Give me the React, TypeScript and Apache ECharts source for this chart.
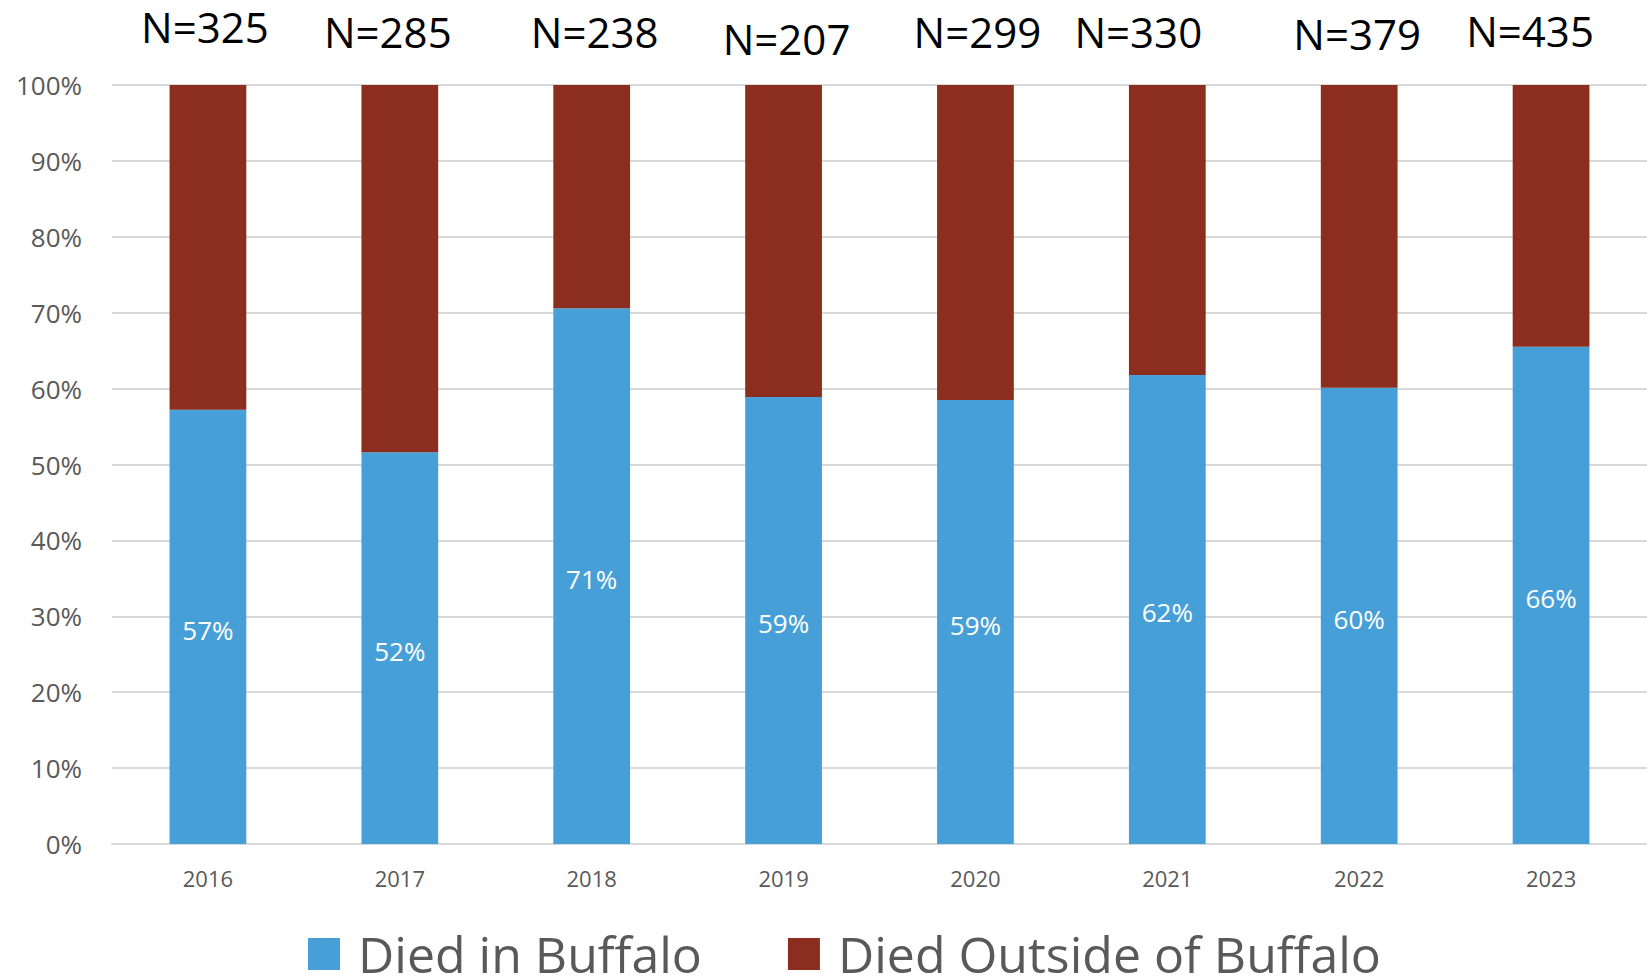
import React, { useEffect, useRef } from "react";
import * as echarts from "echarts";

const years = ["2016", "2017", "2018", "2019", "2020", "2021", "2022", "2023"];
const diedInBuffalo = [57.2, 51.6, 70.6, 58.9, 58.5, 61.8, 60.1, 65.5];
const diedOutside = [42.8, 48.4, 29.4, 41.1, 41.5, 38.2, 39.9, 34.5];
const inLabels = ["57%", "52%", "71%", "59%", "59%", "62%", "60%", "66%"];
const totals = [325, 285, 238, 207, 299, 330, 379, 435];
const totalOffsets: [number, number][] = [
  [-3, -5], [-12, 0], [3, 0], [3, 7], [2, 0], [-29, 0], [-2, 2], [-21, -1],
];
const yTicks = [0, 10, 20, 30, 40, 50, 60, 70, 80, 90, 100];

const FONT = "'Open Sans', 'Noto Sans', sans-serif";
const BLUE = "#479FD7";
const RED = "#8B2D1F";
const GRAY = "#595959";

export default function App() {
  const ref = useRef<HTMLDivElement>(null);
  useEffect(() => {
    if (!ref.current) return;
    const chart = echarts.init(ref.current, null, { renderer: "svg" });
    chart.setOption({
      animation: false,
      backgroundColor: "#ffffff",
      textStyle: { fontFamily: FONT },
      grid: { left: 112, right: 0, top: 85, bottom: 132, containLabel: false },
      legend: {
        top: 929,
        left: 308,
        padding: 0,
        itemWidth: 32,
        itemHeight: 32,
        itemGap: 86,
        icon: "rect",
        textStyle: {
          fontSize: 50,
          lineHeight: 44,
          color: GRAY,
          fontFamily: FONT,
          padding: [0, 0, 0, 13],
        },
        data: ["Died in Buffalo", "Died Outside of Buffalo"],
      },
      xAxis: {
        type: "category",
        data: years,
        axisLine: { show: true, lineStyle: { color: "#D9D9D9", width: 2 } },
        axisTick: { show: false },
        axisLabel: { color: GRAY, fontSize: 22, margin: 23, fontFamily: FONT },
      },
      yAxis: {
        type: "value",
        min: 0,
        max: 100,
        interval: 10,
        axisLine: { show: false },
        axisTick: { show: false },
        splitLine: { lineStyle: { color: "#D9D9D9", width: 2 } },
        axisLabel: {
          color: GRAY,
          fontSize: 26,
          margin: 30,
          fontFamily: FONT,
          formatter: (v: number) => (yTicks.includes(v) ? v + "%" : ""),
        },
      },
      series: [
        {
          name: "Died in Buffalo",
          type: "bar",
          stack: "total",
          barWidth: "40%",
          itemStyle: { color: BLUE },
          label: {
            show: true,
            position: "inside",
            color: "#ffffff",
            fontSize: 26,
            fontFamily: FONT,
            offset: [0, 3],
            formatter: (p: any) => inLabels[p.dataIndex],
          },
          data: diedInBuffalo,
        },
        {
          name: "Died Outside of Buffalo",
          type: "bar",
          stack: "total",
          barWidth: "40%",
          itemStyle: { color: RED },
          label: {
            show: true,
            position: "top",
            distance: 34,
            color: "#000000",
            fontSize: 42,
            lineHeight: 40,
            fontFamily: FONT,
            formatter: (p: any) => "N=" + totals[p.dataIndex],
          },
          data: diedOutside.map((v, i) => ({
            value: v,
            label: { offset: totalOffsets[i] },
          })),
        },
      ],
    });
    return () => chart.dispose();
  }, []);
  return (
    <div
      ref={ref}
      style={{ position: "absolute", left: 0, top: 0, width: 1647, height: 976 }}
    />
  );
}
